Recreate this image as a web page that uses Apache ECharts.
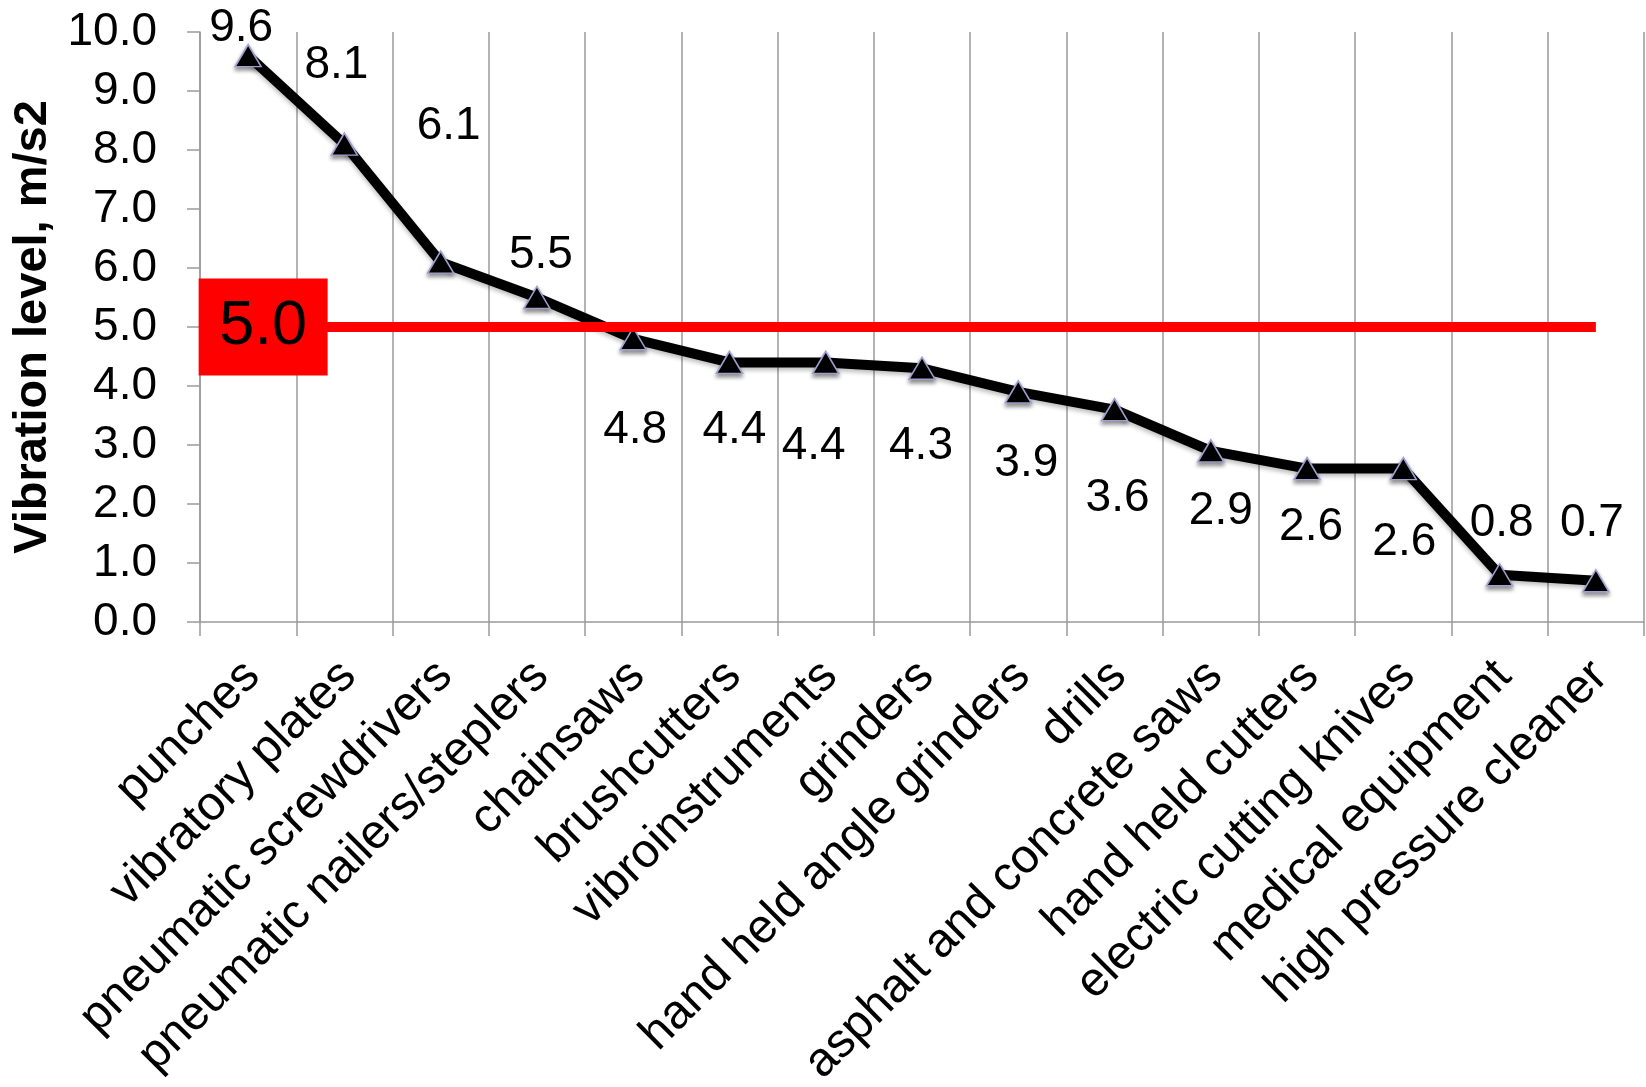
<!DOCTYPE html>
<html>
<head>
<meta charset="utf-8">
<script src="https://cdn.jsdelivr.net/npm/echarts@6/dist/echarts.min.js"></script>
<style>
  html, body { margin: 0; padding: 0; background: #ffffff; }
  #chart { width: 1646px; height: 1087px; }
</style>
</head>
<body>
<div id="chart"></div>
<script>
// ---- data ----
const categories = [
  'punches', 'vibratory plates', 'pneumatic screwdrivers', 'pneumatic nailers/steplers',
  'chainsaws', 'brushcutters', 'vibroinstruments', 'grinders', 'hand held angle grinders',
  'drills', 'asphalt and concrete saws', 'hand held cutters', 'electric cutting knives',
  'medical equipment', 'high pressure cleaner'
];
const vibrationValues = [9.6, 8.1, 6.1, 5.5, 4.8, 4.4, 4.4, 4.3, 3.9, 3.6, 2.9, 2.6, 2.6, 0.8, 0.7];
const threshold = 5.0;
const yTicks = { min: 0, max: 10, interval: 1 };
const yAxisTitle = 'Vibration level, m/s2';

// ---- label placement (style only) ----
const labelOffsets = [
  [-7, -27], [-8, -79], [8, -136], [4, -42], [2, 92], [5, 68], [-12, 84], [-1, 78],
  [8, 71], [3, 89], [10, 60], [4, 59], [1, 74], [2, -51], [-4, -57]
];

const FONT = "'Liberation Sans', Arial, Helvetica, sans-serif";
const GRAY = '#9a9a9a';

const chart = echarts.init(document.getElementById('chart'), null, { renderer: 'canvas' });

const lineData = vibrationValues.map((v, i) => ({
  value: v,
  label: { offset: labelOffsets[i] }
}));

const option = {
  backgroundColor: '#ffffff',
  animation: false,
  grid: { left: 200, right: 2, top: 32, bottom: 465, containLabel: false, outerBoundsMode: 'none' },
  xAxis: {
    type: 'category',
    data: categories,
    boundaryGap: true,
    axisLine: { show: true, lineStyle: { color: GRAY, width: 1.5 } },
    axisTick: { show: true, length: 14, alignWithLabel: false, interval: 0, lineStyle: { color: GRAY, width: 1.5 } },
    splitLine: { show: true, interval: 0, lineStyle: { color: GRAY, width: 1.5 } },
    axisLabel: {
      interval: 0,
      rotate: 45,
      margin: 51,
      padding: [0, -6, 0, 0],
      color: '#000000',
      fontFamily: FONT,
      fontSize: 48
    }
  },
  yAxis: {
    type: 'value',
    min: yTicks.min,
    max: yTicks.max,
    interval: yTicks.interval,
    name: yAxisTitle,
    nameLocation: 'middle',
    nameGap: 142,
    nameTextStyle: { color: '#000000', fontFamily: FONT, fontSize: 47, fontWeight: 'bold' },
    axisLine: { show: true, lineStyle: { color: GRAY, width: 1.5 } },
    axisTick: { show: true, length: 13, lineStyle: { color: GRAY, width: 1.5 } },
    splitLine: { show: false },
    axisLabel: {
      margin: 43,
      color: '#000000',
      fontFamily: FONT,
      fontSize: 46,
      formatter: v => v.toFixed(1)
    }
  },
  series: [
    {
      name: 'Vibration level',
      type: 'line',
      data: lineData,
      z: 3,
      symbol: 'triangle',
      symbolSize: [26, 22],
      lineStyle: {
        color: '#000000', width: 10,
        shadowColor: 'rgba(0,0,0,0.25)', shadowBlur: 4, shadowOffsetY: 3
      },
      itemStyle: {
        color: '#000000', borderColor: '#9f9fcf', borderWidth: 1.5,
        shadowColor: 'rgba(0,0,0,0.45)', shadowBlur: 4, shadowOffsetY: 3
      },
      label: {
        show: true,
        position: 'inside',
        color: '#000000',
        fontFamily: FONT,
        fontSize: 46,
        formatter: p => p.value.toFixed(1)
      },
      emphasis: { disabled: true }
    },
    {
      name: 'Threshold',
      type: 'line',
      data: categories.map(() => threshold),
      z: 4,
      symbol: 'none',
      lineStyle: { color: '#ff0000', width: 10 },
      silent: true,
      emphasis: { disabled: true }
    },
    {
      name: 'Threshold box',
      type: 'scatter',
      data: [[categories[0], threshold]],
      z: 5,
      symbol: 'rect',
      symbolSize: [129, 97],
      symbolOffset: [15, 0],
      itemStyle: { color: '#ff0000', opacity: 1 },
      label: {
        show: true,
        position: 'inside',
        color: '#000000',
        fontFamily: FONT,
        fontSize: 63,
        formatter: () => threshold.toFixed(1)
      },
      silent: true,
      emphasis: { disabled: true }
    }
  ]
};

chart.setOption(option);
</script>
</body>
</html>
